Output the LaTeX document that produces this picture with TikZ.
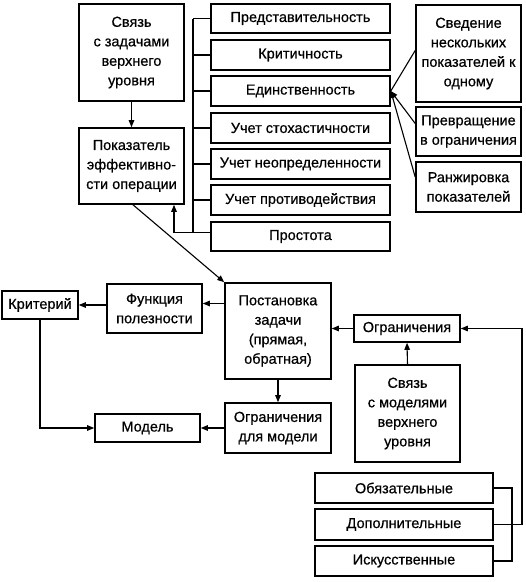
\documentclass[tikz,border=0pt]{standalone}
\usepackage{fontspec}
\setmainfont{Liberation Sans}
\newfontfamily\scanfont{Liberation Sans}[FakeBold=0.6]
\usetikzlibrary{arrows.meta}
\begin{document}
\begin{tikzpicture}[x=1pt,y=-1pt,
  box/.style={draw, line width=1.6pt, inner sep=1pt, align=center,
    font=\scanfont\fontsize{14.5}{19.5}\selectfont},
  conn/.style={line width=1.1pt},
  arr/.style={conn, -{Triangle[length=7pt,width=5.5pt]}}]
\useasboundingbox (0,0) rectangle (526,582);
% top left
\node[box, minimum width=105pt, minimum height=97pt] (svz1) at (131.5,52.5) {Связь\\с задачами\\верхнего\\уровня};
\node[box, minimum width=105pt, minimum height=76pt] (pok) at (131.5,166) {Показатель\\эффективно-\\сти операции};
% list
\node[box, minimum width=179pt, minimum height=29pt] (p1) at (300.5,18.5) {Представительность};
\node[box, minimum width=179pt, minimum height=30pt] (p2) at (300.5,55) {Критичность};
\node[box, minimum width=179pt, minimum height=30pt] (p3) at (300.5,91) {Единственность};
\node[box, minimum width=179pt, minimum height=30pt] (p4) at (300.5,128) {Учет стохастичности};
\node[box, minimum width=179pt, minimum height=30pt] (p5) at (300.5,164) {Учет неопределенности};
\node[box, minimum width=179pt, minimum height=30pt] (p6) at (300.5,200) {Учет противодействия};
\node[box, minimum width=179pt, minimum height=29pt] (p7) at (300.5,236.5) {Простота};
% right column
\node[box, minimum width=105pt, minimum height=97pt] (r1) at (468.5,53.5) {Сведение\\нескольких\\показателей к\\одному};
\node[box, minimum width=105pt, minimum height=49pt] (r2) at (468.5,131.5) {Превращение\\в ограничения};
\node[box, minimum width=105pt, minimum height=50pt] (r3) at (468.5,187) {Ранжировка\\показателей};
% middle
\node[box, minimum width=106pt, minimum height=96pt] (post) at (278,331) {Постановка\\задачи\\(прямая,\\обратная)};
\node[box, minimum width=95pt, minimum height=49pt] (func) at (154.5,308.5) {Функция\\полезности};
\node[box, minimum width=76pt, minimum height=28pt] (krit) at (40,305) {Критерий};
\node[box, minimum width=105pt, minimum height=28pt] (model) at (147.5,428) {Модель};
\node[box, minimum width=106pt, minimum height=50pt] (ogrm) at (278,428) {Ограничения\\для модели};
\node[box, minimum width=106pt, minimum height=27pt] (ogr) at (407,328.5) {Ограничения};
\node[box, minimum width=105pt, minimum height=97pt] (svz2) at (407.5,413.5) {Связь\\с моделями\\верхнего\\уровня};
% bottom
\node[box, minimum width=178pt, minimum height=30pt] (ob) at (404,488) {Обязательные};
\node[box, minimum width=178pt, minimum height=31pt] (dop) at (404,524.5) {Дополнительные};
\node[box, minimum width=178pt, minimum height=30pt] (isk) at (404,561) {Искусственные};
% helper coordinates
\coordinate (bx) at (193,0);
\coordinate (br) at (512,0);
\coordinate (rr) at (522,0);
% connectors
\draw[arr] (svz1) -- (pok);
\foreach \n in {p1,p2,p3,p4,p5,p6} \draw[conn] (\n.west) -- (\n.west -| bx);
\draw[conn] (p1.west -| bx) -- ([yshift=4pt]p7.west -| bx);
\draw[arr] ([yshift=4pt]p7.west) -| ([xshift=42.5pt]pok.south);
\draw[arr] ([xshift=1.5pt]pok.south) -- (post.north west);
\draw[conn] ([yshift=3pt]r1.west) -- (p3.east);
\draw[arr] ([yshift=8pt]r2.west) -- (p3.east);
\draw[arr] ([yshift=10pt]r3.west) -- (p3.east);
\draw[arr] ([yshift=5pt]post.west |- func.east) -- ([yshift=5pt]func.east);
\draw[arr] (func.west |- krit.east) -- (krit.east);
\draw[arr] (krit.south) |- (model.west);
\draw[arr] (ogrm.west) -- (model.east);
\draw[arr] (post.south) -- (ogrm.north);
\draw[arr] (ogr.west) -- (post.east |- ogr.west);
\draw[arr] (svz2.north) -- (ogr.south);
\draw[conn] (ob.east) -- (ob.east -| br) -- (isk.east -| br) -- (isk.east);
\draw[arr] (dop.east) -- (dop.east -| rr) |- (ogr.east);
\end{tikzpicture}
\end{document}
